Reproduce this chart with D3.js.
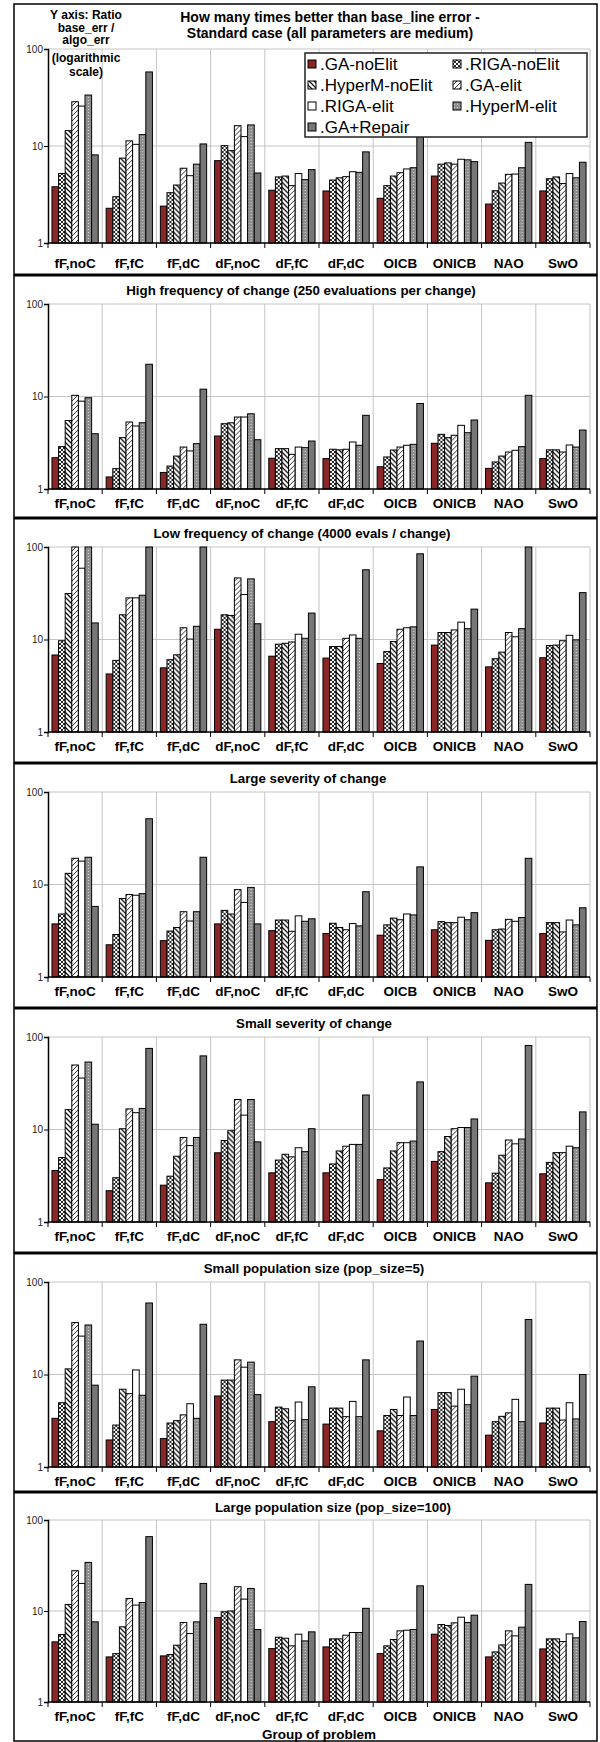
<!DOCTYPE html>
<html>
<head>
<meta charset="utf-8">
<script src="https://cdn.jsdelivr.net/npm/d3@7"></script>
<style>
  body { margin: 0; background: #fff; }
  svg { display: block; font-family: Arial, "Liberation Sans", sans-serif; }
</style>
</head>
<body>
<svg id="chart" width="600" height="1742"></svg>
<script>
// categories (group of problem) and the 7 algorithms
const categories = ["fF,noC", "fF,fC", "fF,dC", "dF,noC", "dF,fC", "dF,dC", "OICB", "ONICB", "NAO", "SwO"];
const seriesNames = [".GA-noElit", ".RIGA-noElit", ".HyperM-noElit", ".GA-elit", ".RIGA-elit", ".HyperM-elit", ".GA+Repair"];
const yTicks = [1, 10, 100];

const panelTitles = [
  ["How many times better than base_line error -", "Standard case (all parameters are medium)"],
  ["High frequency of change (250 evaluations per change)"],
  ["Low frequency of change (4000 evals / change)"],
  ["Large severity of change"],
  ["Small severity of change"],
  ["Small population size (pop_size=5)"],
  ["Large population size (pop_size=100)"]
];

// one row per category, one value per algorithm (ratio base_err / algo_err)
const standardCase = [
  [3.8, 5.2, 14.4, 28.6, 25.8, 33.5, 8.1],
  [2.28, 3.0, 7.5, 11.3, 10.4, 13.1, 58],
  [2.4, 3.3, 3.96, 5.9, 4.94, 6.5, 10.5],
  [7.06, 10.1, 8.95, 16.2, 12.5, 16.5, 5.27],
  [3.5, 4.8, 4.9, 3.9, 5.2, 4.5, 5.7],
  [3.44, 4.46, 4.7, 4.83, 5.43, 5.35, 8.7],
  [2.89, 3.9, 4.9, 5.3, 5.8, 5.97, 18],
  [4.9, 6.5, 6.7, 6.5, 7.3, 7.2, 6.9],
  [2.52, 3.46, 4.15, 5.1, 5.14, 5.97, 10.9],
  [3.44, 4.6, 4.8, 4.1, 5.2, 4.7, 6.8]
];
const highFreq = [
  [2.18, 2.87, 5.5, 10.3, 8.9, 9.7, 3.96],
  [1.35, 1.66, 3.59, 5.3, 4.8, 5.2, 22.3],
  [1.51, 1.77, 2.27, 2.84, 2.58, 3.09, 12],
  [3.74, 5.08, 5.2, 6.0, 6.0, 6.5, 3.41],
  [2.15, 2.73, 2.73, 2.37, 2.84, 2.8, 3.3],
  [2.13, 2.69, 2.65, 2.69, 3.22, 2.97, 6.26],
  [1.74, 2.22, 2.64, 2.84, 2.97, 3.04, 8.4],
  [3.12, 3.9, 3.59, 3.81, 4.88, 4.06, 5.57],
  [1.67, 1.96, 2.27, 2.51, 2.62, 2.87, 10.3],
  [2.13, 2.65, 2.65, 2.51, 2.99, 2.84, 4.34]
];
const lowFreq = [
  [6.8, 9.7, 31.4, 100, 59, 100, 15.1],
  [4.24, 5.95, 18.5, 28.2, 28.2, 30.1, 100],
  [4.94, 6.05, 6.83, 13.4, 10.1, 13.9, 100],
  [12.9, 18.5, 18.2, 46.3, 30.6, 45.2, 14.8],
  [6.6, 8.9, 9.1, 9.4, 11.4, 10.3, 19.3],
  [6.3, 8.4, 8.4, 10.3, 11.2, 10.3, 56.7],
  [5.5, 7.4, 9.5, 12.9, 13.4, 13.7, 84.4],
  [8.7, 11.9, 11.9, 12.7, 15.4, 13.1, 21.3],
  [5.06, 6.2, 7.3, 11.9, 10.7, 13.1, 100],
  [6.35, 8.6, 8.7, 9.7, 11.1, 9.9, 32.1]
];
const largeSeverity = [
  [3.75, 4.8, 13.2, 19.2, 17.9, 19.7, 5.8],
  [2.23, 2.88, 7.06, 7.8, 7.65, 7.96, 51.4],
  [2.47, 3.14, 3.43, 5.08, 4.03, 5.08, 19.7],
  [3.75, 5.25, 4.8, 8.8, 6.4, 9.3, 3.75],
  [3.17, 4.13, 4.13, 3.12, 4.58, 4.0, 4.26],
  [2.95, 3.81, 3.43, 3.24, 3.78, 3.57, 8.35],
  [2.83, 3.66, 4.33, 4.16, 4.8, 4.69, 15.5],
  [3.24, 3.97, 3.87, 3.87, 4.43, 4.16, 4.96],
  [2.49, 3.24, 3.3, 4.2, 4.0, 4.4, 19.2],
  [2.95, 3.87, 3.87, 3.07, 4.13, 3.66, 5.6]
];
const smallSeverity = [
  [3.6, 4.98, 16.4, 49.8, 36, 53.6, 11.4],
  [2.18, 3.01, 10.2, 16.7, 15.2, 16.9, 75.3],
  [2.5, 3.13, 5.14, 8.2, 6.7, 8.2, 62.5],
  [5.6, 7.6, 9.7, 21.1, 14.3, 21.1, 7.35],
  [3.4, 4.67, 5.4, 5.06, 6.35, 5.76, 10.2],
  [3.4, 4.24, 5.86, 6.6, 6.9, 6.9, 23.6],
  [2.87, 3.84, 5.86, 7.2, 7.2, 7.5, 32.7],
  [4.52, 5.76, 8.4, 10.2, 10.5, 10.5, 13],
  [2.65, 3.37, 5.27, 7.7, 7.0, 7.9, 81],
  [3.32, 4.41, 5.62, 5.62, 6.6, 6.35, 15.5]
];
const smallPop = [
  [3.36, 4.95, 11.5, 36.4, 26, 34.3, 7.67],
  [1.96, 2.84, 6.93, 6.21, 11.2, 5.96, 59.3],
  [2.03, 2.99, 3.17, 3.66, 4.83, 3.36, 34.9],
  [5.86, 8.7, 8.7, 14.4, 12, 13.6, 6.06],
  [3.09, 4.44, 4.26, 3.17, 5.04, 3.25, 7.36],
  [2.91, 4.33, 4.33, 3.5, 5.12, 3.5, 14.4],
  [2.46, 3.6, 4.19, 3.6, 5.71, 3.6, 23],
  [4.19, 6.37, 6.37, 4.55, 6.93, 4.71, 9.6],
  [2.21, 3.09, 3.53, 3.85, 5.39, 3.09, 39.3],
  [2.99, 4.33, 4.33, 3.22, 4.95, 3.31, 10]
];
const largePop = [
  [4.58, 5.51, 11.8, 27.7, 20.1, 34.2, 7.6],
  [3.13, 3.4, 6.7, 13.7, 11.6, 12.4, 65.6],
  [3.21, 3.32, 4.21, 7.47, 5.65, 7.6, 20.1],
  [8.48, 9.8, 10.0, 18.5, 13.5, 17.7, 6.26],
  [3.86, 5.15, 5.02, 4.14, 5.56, 4.69, 5.9],
  [4.03, 4.94, 4.94, 5.42, 5.8, 5.8, 10.7],
  [3.4, 4.14, 4.86, 6.05, 6.15, 6.26, 18.9],
  [5.56, 7.1, 6.92, 7.41, 8.55, 7.47, 9.0],
  [3.13, 3.55, 4.24, 6.05, 5.33, 6.64, 19.6],
  [3.83, 4.94, 4.94, 4.62, 5.6, 5.07, 7.66]
];

const panelValues = [standardCase, highFreq, lowFreq, largeSeverity, smallSeverity, smallPop, largePop];

// --- layout (pixels) ---
const W = 600, H = 1742;
const frameLeft = 14, frameRight = 597, frameTop = 4;
const plotLeft = 48, plotRight = 590;
const separators = [275, 518, 763, 1008, 1253, 1492];
// top (value 100) and bottom (value 1) of every plot area
const plotTops = [49, 304, 547, 792, 1037, 1282, 1520];
const plotBottoms = [243, 489, 732, 977, 1222, 1467, 1702];
const titleX = [330, 301, 302, 308, 314, 314, 333];

const svg = d3.select('#chart');
svg.append('rect').attr('width', W).attr('height', H).attr('fill', '#fff');

// patterns for the hatched bars
const defs = svg.append('defs');
function addPattern(id, size, bg, draw) {
  const p = defs.append('pattern')
    .attr('id', id)
    .attr('patternUnits', 'userSpaceOnUse')
    .attr('width', size).attr('height', size);
  p.append('rect').attr('width', size).attr('height', size).attr('fill', bg);
  draw(p);
}
addPattern('pCross', 4, '#fff', p => p.append('path')
  .attr('d', 'M0,0L4,4M4,0L0,4')
  .attr('stroke', '#111').attr('stroke-width', 0.9));
addPattern('pBack', 5, '#fff', p => p.append('path')
  .attr('d', 'M0,0L5,5M-1,4L1,6M4,-1L6,1')
  .attr('stroke', '#111').attr('stroke-width', 1.3));
addPattern('pFwd', 5, '#fff', p => p.append('path')
  .attr('d', 'M0,5L5,0M-1,1L1,-1M4,6L6,4')
  .attr('stroke', '#333').attr('stroke-width', 1.0));
addPattern('pDots', 3, '#8e8e8e', p => p.append('rect')
  .attr('x', 1).attr('y', 1).attr('width', 1).attr('height', 1)
  .attr('fill', '#cfcfcf'));

const fills = ['#8b2626', 'url(#pCross)', 'url(#pBack)', 'url(#pFwd)', '#ffffff', 'url(#pDots)', '#777777'];

// x scales: one band per category, then 7 bars inside
const x0 = d3.scaleBand().domain(categories).range([plotLeft, plotRight]);
const x1 = d3.scaleBand().domain(d3.range(seriesNames.length))
  .range([0, x0.bandwidth()]).paddingInner(0).paddingOuter(0.6);

function drawPanel(i) {
  const g = svg.append('g');
  const y = d3.scaleLog().domain([1, 100]).range([plotBottoms[i], plotTops[i]]).clamp(true);

  // gridlines
  g.append('g').selectAll('line.h')
    .data([10, 100])
    .join('line')
    .attr('x1', plotLeft).attr('x2', plotRight)
    .attr('y1', d => y(d)).attr('y2', d => y(d))
    .attr('stroke', '#c4c4c4').attr('stroke-width', 1);
  g.append('g').selectAll('line.v')
    .data(d3.range(1, categories.length + 1))
    .join('line')
    .attr('x1', k => plotLeft + k * x0.step())
    .attr('x2', k => plotLeft + k * x0.step())
    .attr('y1', y(100)).attr('y2', y(1))
    .attr('stroke', '#c4c4c4').attr('stroke-width', 1);

  // bars
  const groups = g.append('g').selectAll('g')
    .data(panelValues[i])
    .join('g')
    .attr('transform', (d, k) => `translate(${x0(categories[k])},0)`);
  groups.selectAll('rect')
    .data(d => d)
    .join('rect')
    .attr('x', (d, s) => x1(s))
    .attr('width', x1.bandwidth())
    .attr('y', d => y(d))
    .attr('height', d => y(1) - y(d))
    .attr('fill', (d, s) => fills[s])
    .attr('stroke', '#000')
    .attr('stroke-width', 1);

  // y axis
  const yAxis = d3.axisLeft(y).tickValues(yTicks).tickFormat(d3.format('d')).tickSize(4);
  g.append('g')
    .attr('transform', `translate(${plotLeft},0)`)
    .call(yAxis)
    .call(a => a.select('.domain').attr('stroke', '#000').attr('stroke-width', 1.5))
    .call(a => a.selectAll('text').attr('font-size', 10).attr('fill', '#222').attr('x', -5));

  // x axis: ticks on the category boundaries
  const xAxis = g.append('g').attr('transform', `translate(0,${y(1)})`);
  xAxis.append('line')
    .attr('x1', plotLeft).attr('x2', plotRight)
    .attr('stroke', '#000').attr('stroke-width', 1.5);
  xAxis.selectAll('line.tick')
    .data(d3.range(categories.length + 1))
    .join('line')
    .attr('x1', k => plotLeft + k * x0.step()).attr('x2', k => plotLeft + k * x0.step())
    .attr('y1', 0).attr('y2', 5)
    .attr('stroke', '#000').attr('stroke-width', 1);
  xAxis.selectAll('text')
    .data(categories)
    .join('text')
    .attr('x', d => x0(d) + x0.bandwidth() / 2)
    .attr('y', i === 0 ? 25 : 19)
    .attr('text-anchor', 'middle')
    .attr('font-size', 13.5).attr('font-weight', 'bold')
    .text(d => d);

  // title
  const titleTop = i === 0 ? 22 : separators[i - 1] + 20;
  g.selectAll('text.title')
    .data(panelTitles[i])
    .join('text')
    .attr('class', 'title')
    .attr('x', titleX[i])
    .attr('y', (d, k) => titleTop + k * 16)
    .attr('text-anchor', 'middle')
    .attr('font-size', i === 0 ? 14 : 13.3).attr('font-weight', 'bold')
    .text(d => d);
}

panelValues.forEach((v, i) => drawPanel(i));

// note about the y axis (first panel only)
const yNote = ['Y axis: Ratio', 'base_err /', 'algo_err', '(logarithmic', 'scale)'];
const yNoteY = [19, 31.5, 44, 62, 76];
svg.append('g').selectAll('text')
  .data(yNote)
  .join('text')
  .attr('x', 86)
  .attr('y', (d, k) => yNoteY[k])
  .attr('text-anchor', 'middle')
  .attr('font-size', 12).attr('font-weight', 'bold')
  .text(d => d);

// legend, drawn on top of the bars like in the original
const legend = svg.append('g').attr('transform', 'translate(305,53)');
legend.append('rect')
  .attr('width', 282).attr('height', 84)
  .attr('fill', '#fff').attr('stroke', '#222').attr('stroke-width', 1.5);
const items = legend.selectAll('g.item')
  .data(seriesNames)
  .join('g')
  .attr('transform', (d, k) => `translate(${k % 2 === 0 ? 3 : 148},${11 + Math.floor(k / 2) * 21})`);
items.append('rect')
  .attr('x', 0).attr('y', -4).attr('width', 8).attr('height', 8)
  .attr('fill', (d, k) => fills[k])
  .attr('stroke', '#000').attr('stroke-width', 1);
items.append('text')
  .attr('x', 12).attr('y', 6)
  .attr('font-size', 17)
  .text(d => d);

// x axis name at the very bottom
svg.append('text')
  .attr('x', (plotLeft + plotRight) / 2)
  .attr('y', 1739)
  .attr('text-anchor', 'middle')
  .attr('font-size', 13.5).attr('font-weight', 'bold')
  .text('Group of problem');

// frame and the thick separators between panels
svg.append('rect')
  .attr('x', frameLeft).attr('y', frameTop)
  .attr('width', frameRight - frameLeft).attr('height', H - 1 - frameTop)
  .attr('fill', 'none').attr('stroke', '#000').attr('stroke-width', 1.5);
svg.append('g').selectAll('line')
  .data(separators)
  .join('line')
  .attr('x1', frameLeft).attr('x2', frameRight)
  .attr('y1', d => d).attr('y2', d => d)
  .attr('stroke', '#000').attr('stroke-width', 3);
</script>
</body>
</html>
